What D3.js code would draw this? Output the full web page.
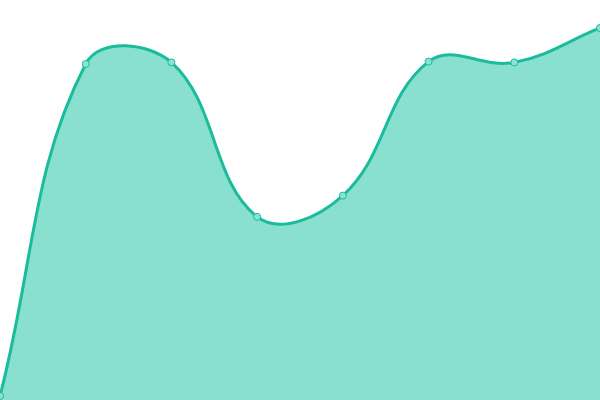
<!DOCTYPE html>
<html lang="en">
<head>
<style>
  body { margin: 0; background: #fff; }
  svg { display: block; }
</style>
<script src="https://d3js.org/d3.v7.min.js"></script>
</head>
<body>
<svg width="600" height="400"></svg>
<script>
var labels = [0, 1, 2, 3, 4, 5, 6, 7];
var values = [1, 84, 84.4, 45.8, 51.1, 84.6, 84.4, 93];

var svg = d3.select("svg"),
    width = +svg.attr("width"),
    height = +svg.attr("height");

var x = d3.scaleLinear().domain([0, labels.length - 1]).range([0, width]);
var y = d3.scaleLinear().domain([0, 100]).range([height, 0]);

var data = labels.map(function(d, i) { return { x: d, y: values[i] }; });

// spline with distance-weighted control points (tension 0.4)
function SplineCurve(context, t) { this._context = context; this._t = t; }
SplineCurve.prototype = {
  areaStart: function() { this._line = 0; },
  areaEnd: function() { this._line = NaN; },
  lineStart: function() { this._pts = []; },
  point: function(px, py) { this._pts.push([+px, +py]); },
  lineEnd: function() {
    var p = this._pts, n = p.length, c = this._context, t = this._t;
    if (n) {
      if (this._line) c.lineTo(p[0][0], p[0][1]); else c.moveTo(p[0][0], p[0][1]);
      var cps = p.map(function(cur, i) {
        var prev = p[Math.max(i - 1, 0)], next = p[Math.min(i + 1, n - 1)];
        var d01 = Math.hypot(cur[0] - prev[0], cur[1] - prev[1]),
            d12 = Math.hypot(next[0] - cur[0], next[1] - cur[1]),
            s = d01 + d12 || 1,
            fa = t * d01 / s, fb = t * d12 / s,
            dx = next[0] - prev[0], dy = next[1] - prev[1];
        return {
          px: cur[0] - fa * dx, py: Math.min(height, Math.max(0, cur[1] - fa * dy)),
          nx: cur[0] + fb * dx, ny: Math.min(height, Math.max(0, cur[1] + fb * dy))
        };
      });
      for (var i = 1; i < n; i++) {
        c.bezierCurveTo(cps[i - 1].nx, cps[i - 1].ny, cps[i].px, cps[i].py, p[i][0], p[i][1]);
      }
    }
    if (this._line || (this._line !== 0 && n === 1)) c.closePath();
    this._line = 1 - this._line;
  }
};
var curve = function(context) { return new SplineCurve(context, 0.4); };

var area = d3.area()
    .x(function(d) { return x(d.x); })
    .y0(height)
    .y1(function(d) { return y(d.y); })
    .curve(curve);

var line = d3.line()
    .x(function(d) { return x(d.x); })
    .y(function(d) { return y(d.y); })
    .curve(curve);

svg.append("path")
    .datum(data)
    .attr("d", area)
    .attr("fill", "#89e0cf");

svg.append("path")
    .datum(data)
    .attr("d", line)
    .attr("fill", "none")
    .attr("stroke", "#1abc9c")
    .attr("stroke-width", 3);

svg.selectAll(".dot")
    .data(data)
    .enter().append("circle")
    .attr("class", "dot")
    .attr("cx", function(d) { return x(d.x); })
    .attr("cy", function(d) { return y(d.y); })
    .attr("r", 3.5)
    .attr("fill", "#8ce3d2")
    .attr("stroke", "#1abc9c")
    .attr("stroke-width", 1);
</script>
</body>
</html>
